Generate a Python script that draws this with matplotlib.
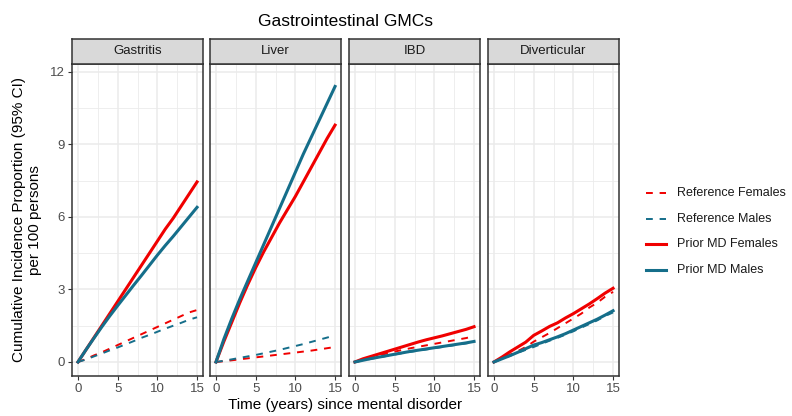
import matplotlib
matplotlib.use("Agg")
import matplotlib.pyplot as plt
from matplotlib.lines import Line2D
import numpy as np

plt.rcParams['font.family'] = ['Liberation Sans', 'DejaVu Sans']

panels = ["Gastritis", "Liver", "IBD", "Diverticular"]
years = [0, 1, 2, 3, 4, 5, 6, 7, 8, 9, 10, 11, 12, 13, 14, 15]

series_names = ["Reference Females", "Reference Males", "Prior MD Females", "Prior MD Males"]

gastritis_ref_f = [0, 0.12, 0.27, 0.40, 0.55, 0.70, 0.85, 1.00, 1.15, 1.30, 1.45, 1.60, 1.75, 1.90, 2.05, 2.15]
gastritis_ref_m = [0, 0.10, 0.23, 0.35, 0.48, 0.60, 0.73, 0.86, 1.00, 1.12, 1.25, 1.38, 1.50, 1.62, 1.75, 1.85]
gastritis_md_f = [0, 0.50, 1.00, 1.50, 2.00, 2.50, 3.00, 3.50, 4.00, 4.50, 5.00, 5.50, 5.95, 6.45, 6.95, 7.45]
gastritis_md_m = [0, 0.50, 0.98, 1.45, 1.90, 2.33, 2.75, 3.17, 3.58, 4.00, 4.42, 4.82, 5.20, 5.60, 6.00, 6.40]

liver_ref_f = [0, 0.03, 0.07, 0.11, 0.15, 0.19, 0.23, 0.27, 0.31, 0.35, 0.39, 0.43, 0.47, 0.52, 0.57, 0.62]
liver_ref_m = [0, 0.05, 0.11, 0.17, 0.23, 0.29, 0.36, 0.43, 0.50, 0.58, 0.66, 0.74, 0.83, 0.92, 1.01, 1.10]
liver_md_f = [0, 0.85, 1.65, 2.45, 3.20, 3.90, 4.55, 5.15, 5.75, 6.30, 6.85, 7.45, 8.05, 8.65, 9.25, 9.80]
liver_md_m = [0, 0.95, 1.80, 2.60, 3.35, 4.10, 4.85, 5.60, 6.35, 7.10, 7.85, 8.60, 9.30, 10.00, 10.70, 11.40]

ibd_ref_f = [0, 0.09, 0.18, 0.27, 0.35, 0.43, 0.50, 0.57, 0.63, 0.69, 0.75, 0.81, 0.87, 0.93, 0.99, 1.07]
ibd_ref_m = [0, 0.06, 0.13, 0.19, 0.25, 0.31, 0.37, 0.42, 0.47, 0.52, 0.57, 0.62, 0.67, 0.72, 0.77, 0.82]
ibd_md_f = [0, 0.13, 0.23, 0.33, 0.43, 0.53, 0.63, 0.73, 0.83, 0.92, 1.00, 1.08, 1.17, 1.26, 1.35, 1.46]
ibd_md_m = [0, 0.07, 0.14, 0.20, 0.26, 0.32, 0.38, 0.44, 0.49, 0.54, 0.59, 0.64, 0.69, 0.74, 0.79, 0.85]

div_ref_f = [0, 0.15, 0.30, 0.45, 0.62, 0.84, 1.02, 1.20, 1.40, 1.60, 1.80, 2.00, 2.25, 2.45, 2.70, 2.90]
div_ref_m = [0, 0.12, 0.25, 0.38, 0.50, 0.62, 0.75, 0.88, 1.00, 1.13, 1.27, 1.42, 1.57, 1.72, 1.90, 2.05]
div_md_f = [0, 0.20, 0.42, 0.62, 0.82, 1.10, 1.28, 1.47, 1.62, 1.82, 2.00, 2.20, 2.40, 2.62, 2.85, 3.05]
div_md_m = [0, 0.13, 0.26, 0.40, 0.55, 0.70, 0.80, 0.92, 1.04, 1.17, 1.32, 1.47, 1.62, 1.77, 1.94, 2.12]

panel_data = {
    "Gastritis": [gastritis_ref_f, gastritis_ref_m, gastritis_md_f, gastritis_md_m],
    "Liver": [liver_ref_f, liver_ref_m, liver_md_f, liver_md_m],
    "IBD": [ibd_ref_f, ibd_ref_m, ibd_md_f, ibd_md_m],
    "Diverticular": [div_ref_f, div_ref_m, div_md_f, div_md_m],
}

x_ticks = [0, 5, 10, 15]
y_ticks = [0, 3, 6, 9, 12]

RED = "#F00000"
TEAL = "#156E8A"
styles = [
    dict(color=RED, ls=(0, (3.5, 3.5)), lw=1.4),
    dict(color=TEAL, ls=(0, (3.5, 3.5)), lw=1.4),
    dict(color=RED, ls="-", lw=2.2),
    dict(color=TEAL, ls="-", lw=2.2),
]

W, H = 792, 416
fig = plt.figure(figsize=(W / 100, H / 100), dpi=100)

lefts = [72, 210, 349, 488]
pw = 131
top_px, bot_px = 64, 376
strip_top = 39

def fx(px):
    return px / W

def fy(py):
    return 1 - py / H

for i, name in enumerate(panels):
    ax = fig.add_axes([fx(lefts[i]), fy(bot_px), pw / W, (bot_px - top_px) / H])
    ax.set_xlim(-0.75, 15.75)
    ax.set_ylim(-0.58, 12.33)
    ax.set_xticks(x_ticks)
    ax.set_xticks([2.5, 7.5, 12.5], minor=True)
    ax.set_yticks(y_ticks)
    ax.set_yticks([1.5, 4.5, 7.5, 10.5], minor=True)
    ax.grid(which="major", color="#EBEBEB", lw=1.1)
    ax.grid(which="minor", color="#EBEBEB", lw=0.6)
    ax.set_axisbelow(True)
    for sp in ax.spines.values():
        sp.set_color("#333333")
        sp.set_linewidth(1.1)
    ax.tick_params(which="major", length=3, width=0.8, color="#333333",
                   labelcolor="#4D4D4D", labelsize=9.5, pad=2)
    ax.tick_params(which="minor", length=0)
    if i > 0:
        ax.set_yticklabels([])
        ax.tick_params(axis="y", which="major", length=0)
    ys = panel_data[name]
    for s, st in zip(ys, styles):
        ax.plot(years, s, **st)
    # strip
    sax = fig.add_axes([fx(lefts[i]), fy(top_px), pw / W, (top_px - strip_top) / H])
    sax.set_facecolor("#D9D9D9")
    sax.set_xticks([])
    sax.set_yticks([])
    for sp in sax.spines.values():
        sp.set_color("#333333")
        sp.set_linewidth(1.1)
    sax.text(0.5, 0.5, name, ha="center", va="center", fontsize=9.5, color="#1A1A1A",
             transform=sax.transAxes)

fig.text(fx(345.5), fy(22), "Gastrointestinal GMCs", ha="center", va="center", fontsize=12.5, color="black")
fig.text(fx(345.5), fy(405), "Time (years) since mental disorder", ha="center", va="center", fontsize=11, color="black")
fig.text(fx(27), fy(220), "Cumulative Incidence Proportion (95% CI)\nper 100 persons", ha="center", va="center",
         rotation=90, fontsize=11, color="black", linespacing=1.25)

leg_rows = [193, 219, 244, 270]
for name, st, yy in zip(series_names, styles, leg_rows):
    fig.add_artist(Line2D([fx(646), fx(666)], [fy(yy), fy(yy)], transform=fig.transFigure,
                          color=st["color"], ls=st["ls"], lw=st["lw"]))
    fig.text(fx(677), fy(yy), name, ha="left", va="center", fontsize=9, color="#1A1A1A")

fig.savefig("out.png", dpi=100, facecolor="white")
